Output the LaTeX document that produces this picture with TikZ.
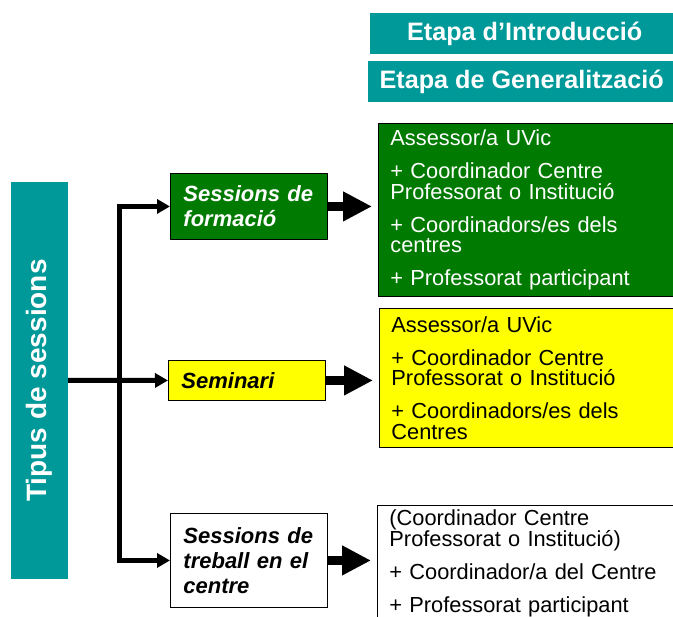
\documentclass[tikz,border=0pt]{standalone}
\usepackage{fontspec}
\setmainfont{Liberation Sans}
\usetikzlibrary{arrows.meta}
\definecolor{etapa}{RGB}{0,153,153}
\definecolor{verd}{RGB}{0,122,0}
\definecolor{groc}{RGB}{255,255,0}

\begin{document}
\begin{tikzpicture}[x=1pt,y=-1pt,
    capsa/.style={draw=black, line width=0.9pt, anchor=north west, align=left, inner xsep=13pt, inner ysep=0pt, text width=131pt, font=\fontsize{22}{25}\selectfont\bfseries\itshape},
    llista/.style={draw=black, line width=0.9pt, anchor=north west, align=left, inner xsep=12pt, inner ysep=0pt, text width=290pt, font=\fontsize{21.8}{20.5}\selectfont},
    etapabox/.style={fill=etapa, text=white, anchor=north west, minimum width=320pt, minimum height=41pt, inner sep=0pt, font=\fontsize{25.2}{25}\selectfont\bfseries},
    fina/.style={line width=5pt, -{Triangle[length=13pt,width=14pt]}},
    gruixuda/.style={line width=9pt, shorten >=6pt, -{Triangle[length=29pt,width=28pt]}}]
    \useasboundingbox (0,0) rectangle (673,617);
    \node[etapabox] (intro) at (370,13) {\hspace*{-11pt}Etapa d’Introducció};
    \node[etapabox] (gener) at (368,61) {\hspace*{-13pt}Etapa de Generalització};
    \node[fill=etapa, text=white, rotate=90, minimum width=397pt, minimum height=57pt, inner sep=0pt, font=\fontsize{28}{28}\selectfont\bfseries] (tipus) at (39.5,380.5) {Tipus de sessions};
    \node[capsa, fill=verd, text=white, minimum height=66pt] (formacio) at (170,173) {Sessions de\\formació};
    \node[capsa, fill=groc, minimum height=40pt] (seminari) at (168,360) {Seminari};
    \node[capsa, fill=white, minimum height=94pt] (treball) at (170,513) {Sessions de\\treball en el\\centre};
    \node[llista, fill=verd, text=white, minimum height=173pt] (gverd) at (378,123) {Assessor/a UVic\\[12.5pt]
        + Coordinador Centre\\Professorat o Institució\\[12.5pt]
        + Coordinadors/es dels\\centres\\[12.5pt]
        + Professorat participant};
    \node[llista, fill=groc, minimum height=139pt] (ggroc) at (379,308) {Assessor/a UVic\\[12.5pt]
        + Coordinador Centre\\Professorat o Institució\\[12.5pt]
        + Coordinadors/es dels\\Centres};
    \node[llista, fill=white, minimum height=116pt] (gblanc) at (377,505) {(Coordinador Centre\\Professorat o Institució)\\[12.5pt]
        + Coordinador/a del Centre\\[12.5pt]
        + Professorat participant};
    \coordinate (nus) at (119.5,380);
    \draw[fina] (tipus.south) -- (seminari.west);
    \draw[fina] (nus) |- (formacio.west);
    \draw[fina] (nus) |- (treball.west);
    \draw[gruixuda] (formacio.east) -- (formacio.east -| gverd.west);
    \draw[gruixuda] (seminari.east) -- (seminari.east -| ggroc.west);
    \draw[gruixuda] (treball.east) -- (treball.east -| gblanc.west);
\end{tikzpicture}
\end{document}
